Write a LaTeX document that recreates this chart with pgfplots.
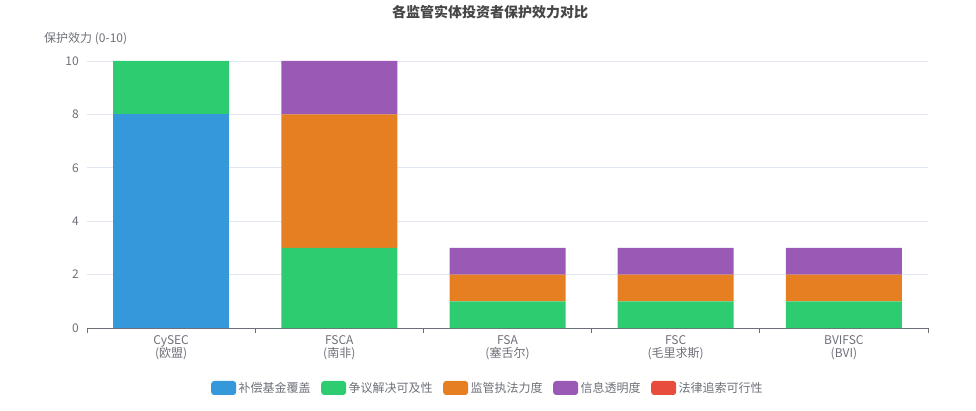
\documentclass[border=0pt]{standalone}
\usepackage{fontspec}
\setmainfont{Noto Sans CJK SC}
\usepackage{pgfplots}
\pgfplotsset{compat=1.18}
\definecolor{cBlue}{HTML}{3498DB}
\definecolor{cGreen}{HTML}{2ECC71}
\definecolor{cOrange}{HTML}{E67E22}
\definecolor{cPurple}{HTML}{9B59B6}
\definecolor{cRed}{HTML}{E74C3C}
\definecolor{tickgray}{HTML}{6E7079}
\definecolor{axisgray}{HTML}{6E7079}
\definecolor{gridgray}{HTML}{E0E6F1}
\definecolor{titlegray}{HTML}{464646}
\pgfplotsset{
  my legend/.style={legend image code/.code={\fill[##1, draw=none, rounded corners=3pt] (0pt,-7pt) rectangle (25pt,7pt);}}
}
\begin{document}
\begin{tikzpicture}[x=1pt,y=1pt]
\path[use as bounding box] (0,0) rectangle (976,410);
\node[font=\fontsize{14}{14}\selectfont\bfseries, text=titlegray] at (490,398) {各监管实体投资者保护效力对比};
\node[anchor=west, font=\fontsize{12}{12}\selectfont, text=tickgray, inner sep=0pt] at (44,371) {保护效力 (0-10)};
\begin{axis}[
  at={(87pt,82pt)}, anchor=south west,
  scale only axis, width=841pt, height=267pt,
  ybar stacked, bar width=116pt,
  xmin=-0.5, xmax=4.5, ymin=0, ymax=10,
  ytick={0,2,4,6,8,10},
  xtick={0,1,2,3,4},
  xticklabels={{CySEC\\(欧盟)},{FSCA\\(南非)},{FSA\\(塞舌尔)},{FSC\\(毛里求斯)},{BVIFSC\\(BVI)}},
  xticklabel style={align=center, font=\fontsize{12}{13}\selectfont, text=tickgray, inner sep=0pt, yshift=-7pt},
  yticklabel style={font=\fontsize{12}{12}\selectfont, text=tickgray, inner sep=0pt, xshift=-8pt},
  /pgf/number format/assume math mode=true,
  major tick length=0pt,
  tick style={draw=none},
  extra x ticks={-0.5,0.5,1.5,2.5,3.5,4.5},
  extra x tick labels={},
  extra x tick style={tick align=outside, major tick length=5pt, tick style={draw=axisgray, line width=0.8pt}},
  axis x line*=bottom,
  axis y line*=left,
  y axis line style={draw=none},
  x axis line style={draw=axisgray, line width=0.8pt, -},
  ymajorgrids, grid style={draw=gridgray, line width=0.7pt},
  every axis plot post/.append style={my legend},
  legend columns=5,
  legend style={draw=none, fill=none, at={(0.477,-0.2247)}, anchor=center,
    font=\fontsize{12}{12}\selectfont, text=tickgray,
    /tikz/every even column/.append style={column sep=8pt},
    nodes={inner sep=2.5pt}},
]
\addplot[fill=cBlue, draw=none] coordinates {(0,8) (1,0) (2,0) (3,0) (4,0)};
\addplot[fill=cGreen, draw=none] coordinates {(0,2) (1,3) (2,1) (3,1) (4,1)};
\addplot[fill=cOrange, draw=none] coordinates {(0,0) (1,5) (2,1) (3,1) (4,1)};
\addplot[fill=cPurple, draw=none] coordinates {(0,0) (1,2) (2,1) (3,1) (4,1)};
\addplot[fill=cRed, draw=none] coordinates {(0,0) (1,0) (2,0) (3,0) (4,0)};
\legend{补偿基金覆盖,争议解决可及性,监管执法力度,信息透明度,法律追索可行性}
\end{axis}
\end{tikzpicture}
\end{document}
